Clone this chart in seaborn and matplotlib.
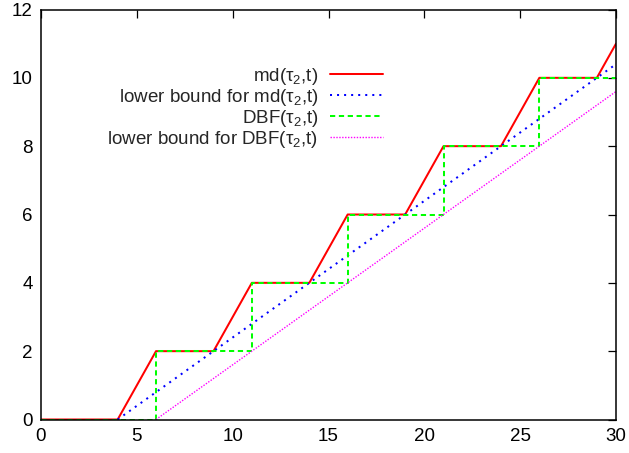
import matplotlib
matplotlib.use("Agg")
import matplotlib.pyplot as plt
import seaborn as sns

# data
md_t = [0, 4, 6, 9, 11, 14, 16, 19, 21, 24, 26, 29, 30]
md_v = [0, 0, 2, 2, 4, 4, 6, 6, 8, 8, 10, 10, 11]
md_lb_t = [4, 30]
md_lb_v = [0, 10.4]
dbf_t = [0, 6, 6, 11, 11, 16, 16, 21, 21, 26, 26, 30]
dbf_v = [0, 0, 2, 2, 4, 4, 6, 6, 8, 8, 10, 10]
dbf_lb_t = [6, 30]
dbf_lb_v = [0, 9.6]
labels = ["md(τ$_2$,t)", "lower bound for md(τ$_2$,t)",
          "DBF(τ$_2$,t)", "lower bound for DBF(τ$_2$,t)"]
x_ticks = [0, 5, 10, 15, 20, 25, 30]
y_ticks = [0, 2, 4, 6, 8, 10, 12]

sns.set_style("white")
plt.rcParams["font.family"] = ["Liberation Sans", "DejaVu Sans"]
plt.rcParams["mathtext.fontset"] = "custom"
plt.rcParams["mathtext.rm"] = "Liberation Sans"
plt.rcParams["mathtext.it"] = "Liberation Sans:italic"

fig = plt.figure(figsize=(6.29, 4.53), dpi=100)
ax = fig.add_axes([41/629, 1 - 419.5/453, (616-41)/629, (419.5-9.5)/453])

fs = 13.5
lw = 1.45
sns.lineplot(x=md_t, y=md_v, ax=ax, estimator=None, sort=False,
             color="#ff0000", lw=lw, label=labels[0])
sns.lineplot(x=md_lb_t, y=md_lb_v, ax=ax, estimator=None, sort=False,
             color="#0000ff", lw=lw, label=labels[1])
sns.lineplot(x=dbf_t, y=dbf_v, ax=ax, estimator=None, sort=False,
             color="#00ff00", lw=lw, label=labels[2])
sns.lineplot(x=dbf_lb_t, y=dbf_lb_v, ax=ax, estimator=None, sort=False,
             color="#ff00ff", lw=1.0, label=labels[3])
lines = ax.get_lines()
lines[1].set_dashes((1, 2.5)); lines[1].set_dash_capstyle("butt")
lines[2].set_dashes((2.6, 1.8)); lines[2].set_dash_capstyle("butt")
lines[3].set_dashes((1, 1.1)); lines[3].set_dash_capstyle("butt")

ax.set_xlim(0, 30)
ax.set_ylim(0, 12)
ax.set_xticks(x_ticks)
ax.set_yticks(y_ticks)
for s in ax.spines.values():
    s.set_visible(True)
    s.set_color("black")
    s.set_linewidth(1.1)
ax.tick_params(direction="in", length=5.5, width=0.9, top=True, right=True,
               labelsize=fs, colors="black", labelcolor="black")
ax.tick_params(axis="x", pad=6)
ax.tick_params(axis="y", pad=6)

leg = ax.legend(loc="upper right", bbox_to_anchor=(383/629, 1 - 66/453),
                bbox_transform=fig.transFigure, frameon=False, markerfirst=False,
                fontsize=fs, handlelength=2.85, handletextpad=0.6,
                labelspacing=0.0, borderpad=0, borderaxespad=0)
for t in leg.get_texts():
    t.set_ha("right")

fig.savefig("out.png", dpi=100)
